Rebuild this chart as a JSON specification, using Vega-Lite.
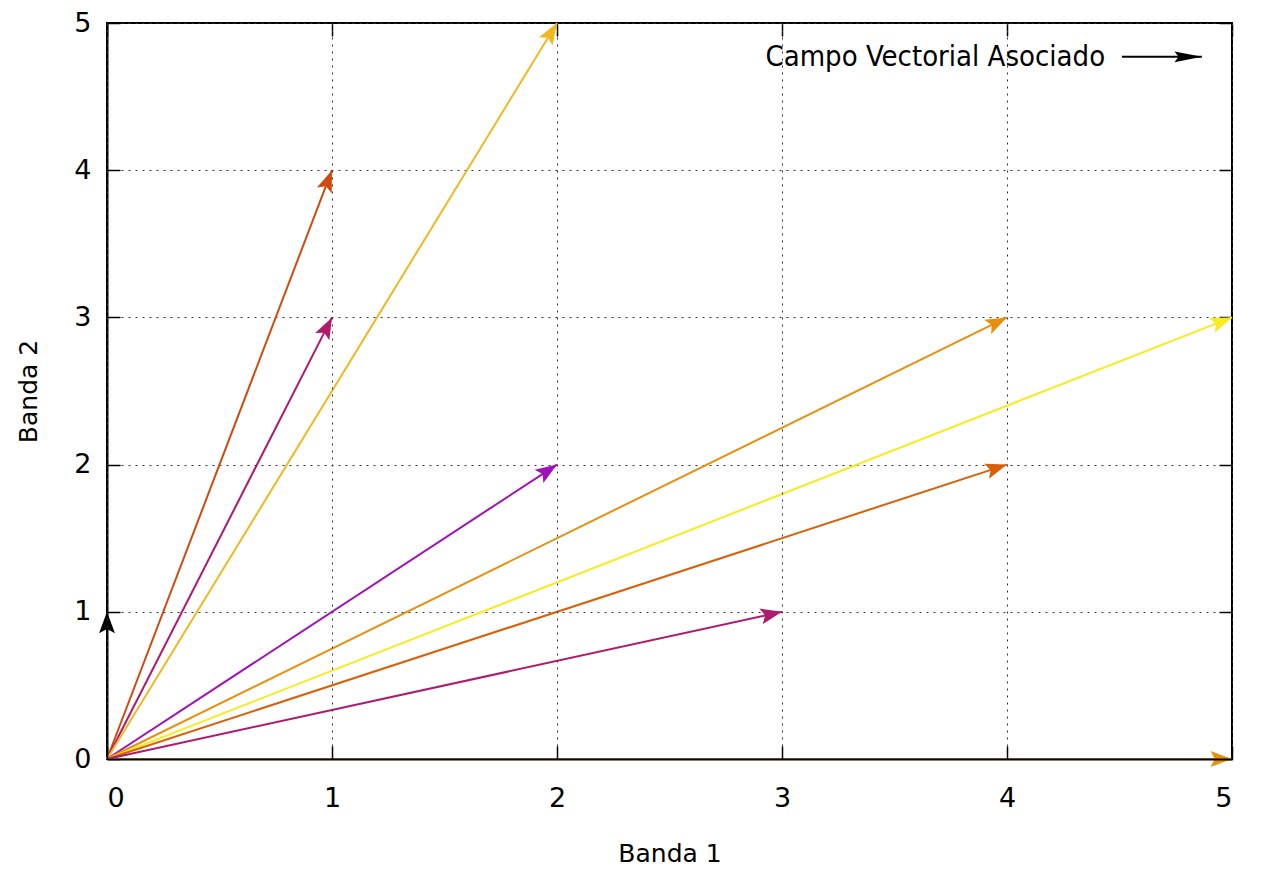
{
  "$schema": "https://vega.github.io/schema/vega-lite/v6.json",
  "width": 1125,
  "height": 736,
  "autosize": {"type": "none"},
  "padding": {"left": 107, "top": 23, "right": 29, "bottom": 110},
  "background": "white",
  "config": {
    "view": {"stroke": "#000", "strokeWidth": 2},
    "font": "DejaVu Sans",
    "axis": {
      "labelFont": "DejaVu Sans",
      "labelFontSize": 27,
      "labelColor": "#000",
      "titleFont": "DejaVu Sans",
      "titleFontSize": 25,
      "titleFontWeight": "normal",
      "titleColor": "#000",
      "domainColor": "#000",
      "domainWidth": 2,
      "tickColor": "#000",
      "tickWidth": 1.5,
      "tickSize": -13,
      "gridColor": "#333",
      "gridDash": [2, 5],
      "gridWidth": 1
    }
  },
  "datasets": {
    "vectors": [
      {"vector": "(0,1)", "x": 0, "y": 1},
      {"vector": "(1,4)", "x": 1, "y": 4},
      {"vector": "(1,3)", "x": 1, "y": 3},
      {"vector": "(2,5)", "x": 2, "y": 5},
      {"vector": "(2,2)", "x": 2, "y": 2},
      {"vector": "(4,3)", "x": 4, "y": 3},
      {"vector": "(5,3)", "x": 5, "y": 3},
      {"vector": "(4,2)", "x": 4, "y": 2},
      {"vector": "(3,1)", "x": 3, "y": 1},
      {"vector": "(5,0)", "x": 5, "y": 0}
    ],
    "key": [
      {"label": "Campo Vectorial Asociado", "tx": 4.436, "x0": 4.511, "x1": 4.866, "y": 4.77}
    ]
  },
  "layer": [
    {
      "data": {"name": "vectors"},
      "mark": {"type": "rule", "strokeWidth": 2},
      "encoding": {
        "x": {"field": "x", "type": "quantitative", "scale": {"domain": [0, 5], "nice": false, "zero": false},
          "axis": {"orient": "bottom", "values": [0, 1, 2, 3, 4, 5], "grid": true, "title": "Banda 1", "labelPadding": 39, "labelDx": 5, "titlePadding": 30, "format": "d", "zindex": 1}},
        "y": {"field": "y", "type": "quantitative", "scale": {"domain": [0, 5], "nice": false, "zero": false},
          "axis": {"orient": "left", "values": [0, 1, 2, 3, 4, 5], "grid": true, "title": "Banda 2", "labelPadding": 29, "titlePadding": 32, "format": "d"}},
        "x2": {"datum": 0},
        "y2": {"datum": 0},
        "color": {"field": "vector", "type": "nominal", "legend": null,
          "scale": {"domain": ["(0,1)", "(2,2)", "(3,1)", "(1,3)", "(1,4)", "(4,2)", "(5,0)", "(4,3)", "(2,5)", "(5,3)"],
                    "range": ["#000000", "#a010b8", "#b01a6e", "#b01a6e", "#d04a10", "#da6008", "#e8900e", "#e8900e", "#f0b820", "#f8ec20"]}}
      }
    },
    {
      "data": {"name": "vectors"},
      "transform": [{"calculate": "atan2(datum.x * 225, datum.y * 147.2) * 180 / PI", "as": "angle"}],
      "mark": {"type": "point", "filled": true, "opacity": 1, "strokeWidth": 0, "shape": "M0,0L-0.37,1L0,0.8L0.37,1Z", "size": 1850},
      "encoding": {
        "x": {"field": "x", "type": "quantitative", "axis": {"orient": "top", "values": [0, 1, 2, 3, 4, 5], "labels": false, "domain": false, "grid": false, "title": null}},
        "y": {"field": "y", "type": "quantitative", "axis": {"orient": "right", "values": [0, 1, 2, 3, 4, 5], "labels": false, "domain": false, "grid": false, "title": null}},
        "angle": {"field": "angle", "type": "quantitative", "scale": null},
        "color": {"field": "vector", "type": "nominal", "legend": null}
      }
    },
    {
      "data": {"name": "key"},
      "mark": {"type": "text", "align": "right", "baseline": "middle", "fontSize": 29, "font": "DejaVu Sans Condensed", "color": "#000"},
      "encoding": {
        "x": {"field": "tx", "type": "quantitative", "axis": null},
        "y": {"field": "y", "type": "quantitative", "axis": null},
        "text": {"field": "label"}
      }
    },
    {
      "data": {"name": "key"},
      "mark": {"type": "rule", "color": "#000", "strokeWidth": 2},
      "encoding": {
        "x": {"field": "x0", "type": "quantitative", "axis": null},
        "x2": {"field": "x1"},
        "y": {"field": "y", "type": "quantitative", "axis": null}
      }
    },
    {
      "data": {"name": "key"},
      "mark": {"type": "point", "filled": true, "opacity": 1, "strokeWidth": 0, "color": "#000", "shape": "M0,0L-0.2,1L0,0.85L0.2,1Z", "size": 3000, "angle": 90},
      "encoding": {
        "x": {"field": "x1", "type": "quantitative", "axis": null},
        "y": {"field": "y", "type": "quantitative", "axis": null}
      }
    }
  ],
  "resolve": {"axis": {"x": "independent", "y": "independent"}}
}
